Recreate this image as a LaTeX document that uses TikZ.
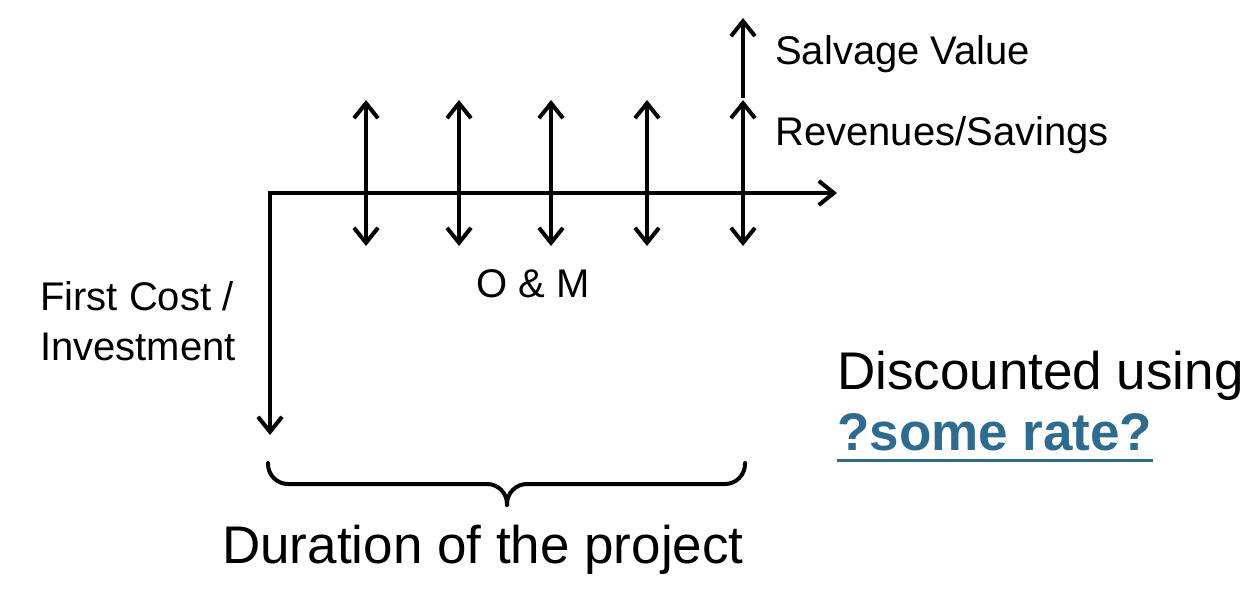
\documentclass[tikz,border=0pt]{standalone}
\usepackage{fontspec}
\setmainfont{Liberation Sans}
\usetikzlibrary{arrows.meta}
\definecolor{rateblue}{RGB}{47,107,143}
\begin{document}
\begin{tikzpicture}[x=1pt,y=-1pt,
  flow/.style={line width=4pt,{Straight Barb[length=15pt,width=24pt]}-{Straight Barb[length=15pt,width=24pt]}},
  upflow/.style={line width=4pt,-{Straight Barb[length=15pt,width=24pt]}},
  small/.style={inner sep=0pt,anchor=base west,font=\fontsize{40}{48}\selectfont},
  big/.style={inner sep=0pt,anchor=base west,font=\fontsize{53}{62}\selectfont},
  bracepath/.style={line width=4pt,line cap=round,rounded corners=20pt}]
\useasboundingbox (0,0) rectangle (1256,594);
% axis
\coordinate (down) at (270,435);
\coordinate (origin) at (270,193);
\coordinate (axisend) at (837,193);
\draw[flow,line join=miter] (down) -- (origin) -- (axisend);
% cash flow arrows
\foreach \i/\x in {1/366,2/459,3/551,4/647,5/743}{
  \coordinate (t\i) at (\x,100);
  \coordinate (b\i) at (\x,246);
  \draw[flow] (b\i) -- (t\i);
}
\coordinate (s0) at (743,98);
\coordinate (s1) at (743,18);
\draw[upflow] (s0) -- (s1);
% brace
\coordinate (bl) at (268,463);
\coordinate (br) at (745,463);
\coordinate (bm) at (507,505);
\draw[bracepath] (bl) -- (268,484) -- (507,484) -- (bm);
\draw[bracepath] (br) -- (745,484) -- (507,484) -- (bm);
% labels
\node[small] (salv) at (775,65) {Salvage Value};
\node[small] (rev) at (775,145) {Revenues/Savings};
\node[small] (om) at (476,297) {O \& M};
\node[small] (fc1) at (40,310) {First Cost /};
\node[small] (fc2) at (40,360) {Investment};
\node[big] (dur) at (222,563) {Duration of the project};
\node[big] (disc) at (837,389) {Discounted using};
\node[big,text=rateblue,font=\fontsize{53}{62}\selectfont\bfseries] (rate) at (837,450) {?some rate?};
\draw[rateblue,line width=3pt] ([yshift=-10pt]rate.base west) -- ([yshift=-10pt]rate.base east);
\end{tikzpicture}
\end{document}
